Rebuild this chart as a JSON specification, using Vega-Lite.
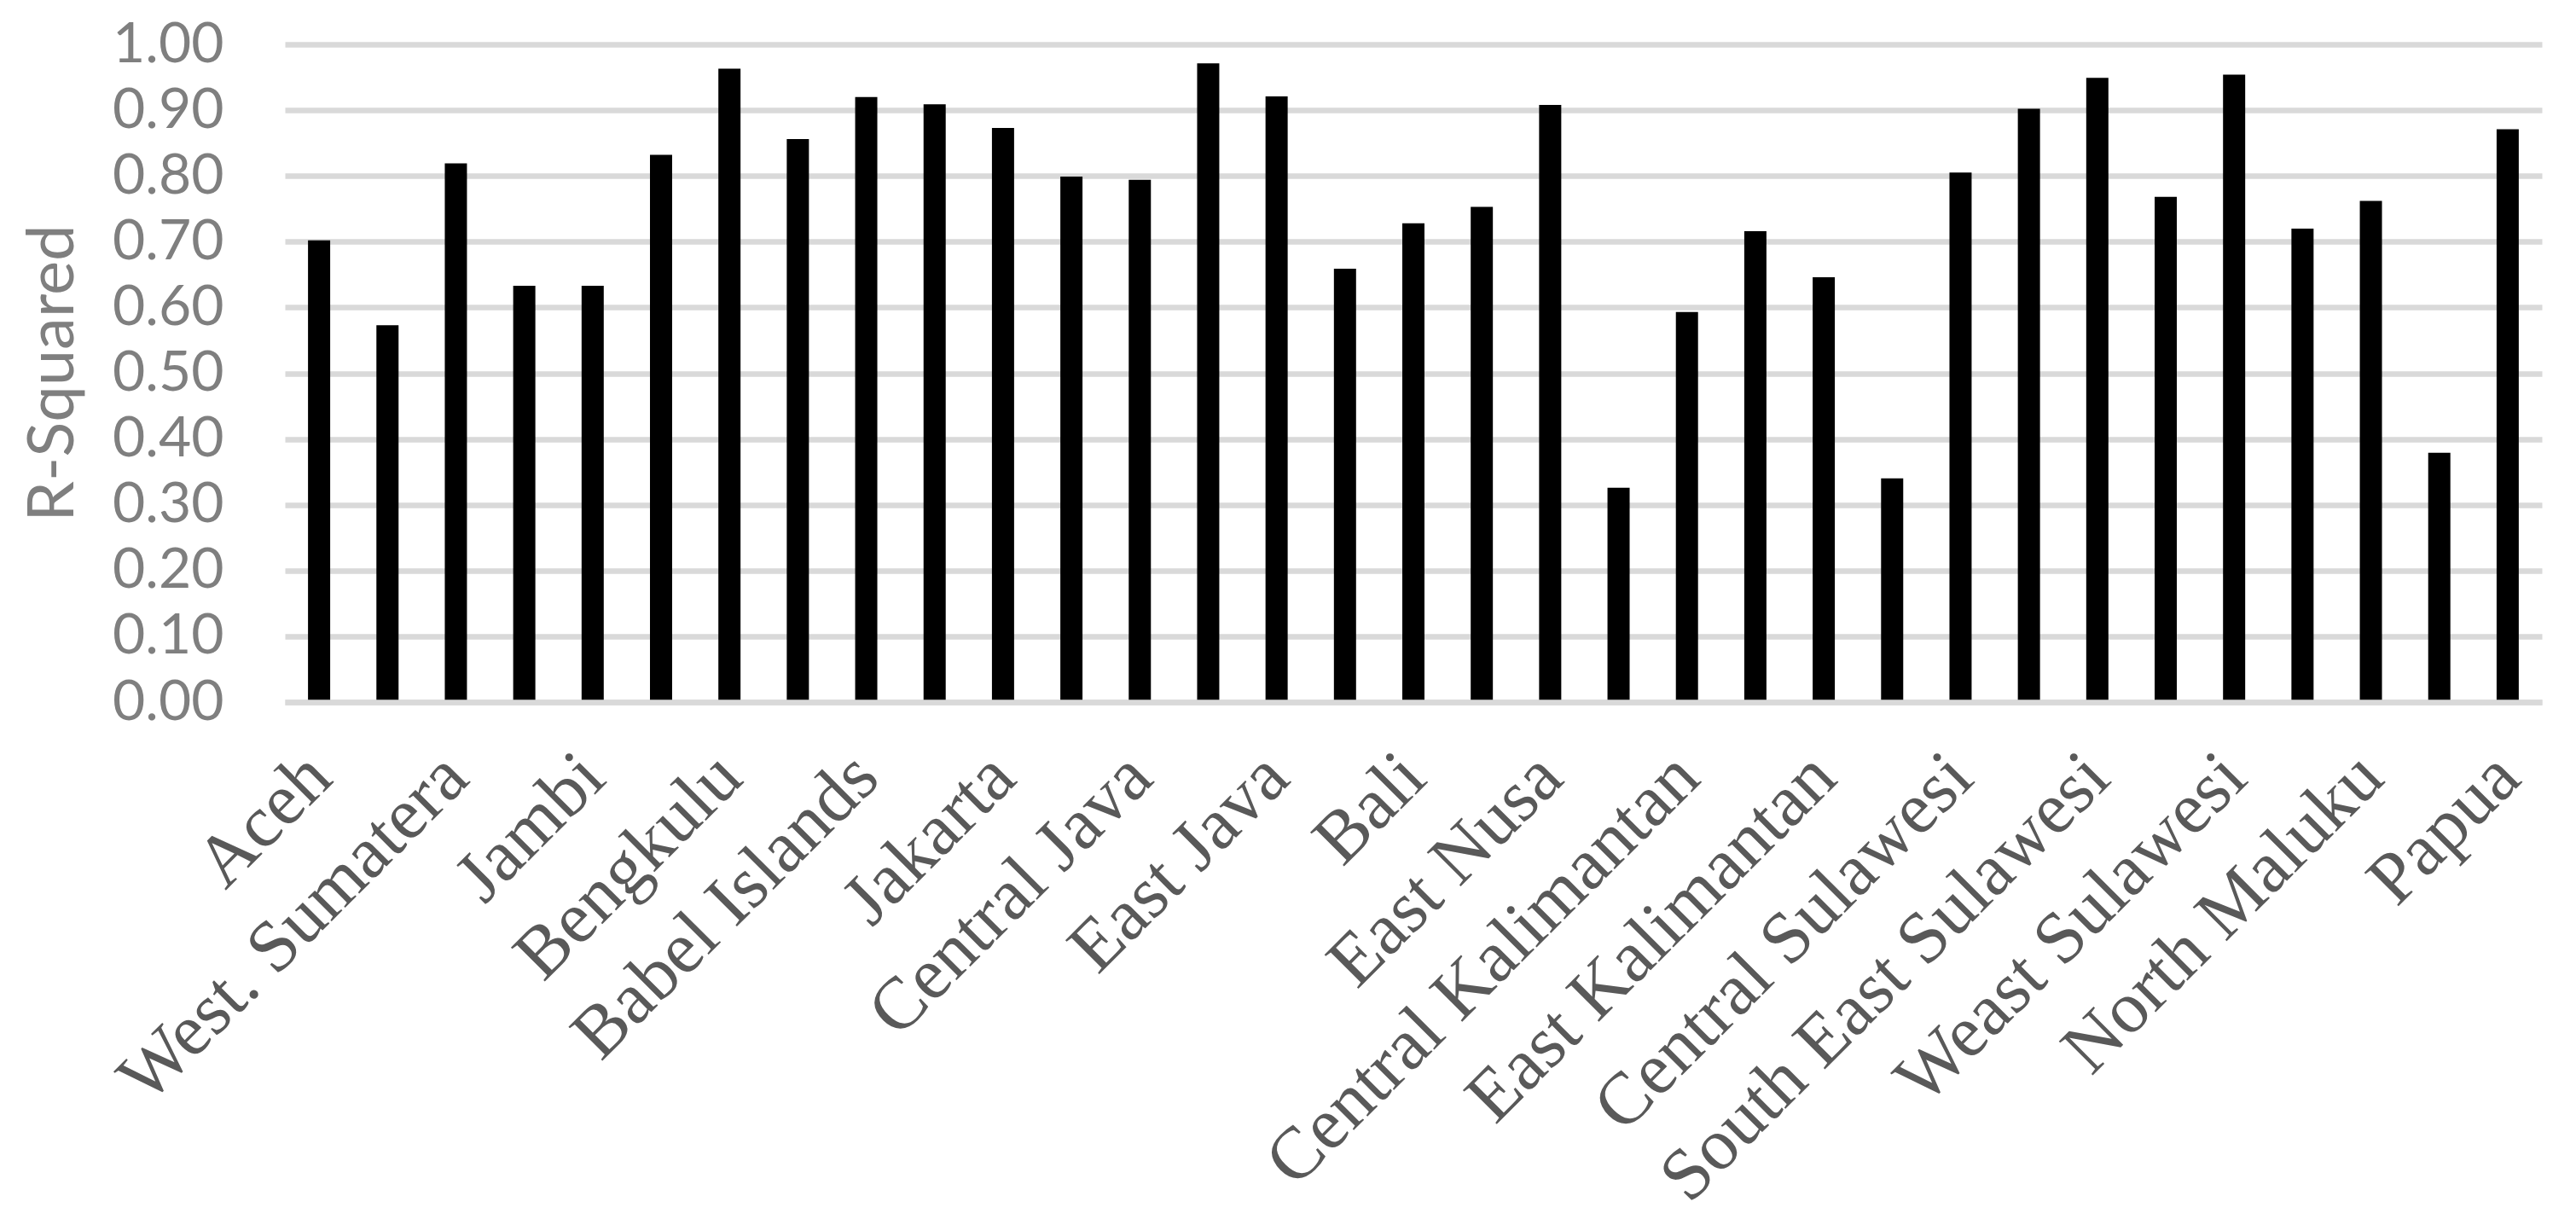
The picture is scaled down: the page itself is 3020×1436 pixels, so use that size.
{
  "$schema": "https://vega.github.io/schema/vega-lite/v6.json",
  "autosize": {"type": "none"},
  "width": 2646,
  "height": 771,
  "padding": {"left": 334, "top": 52, "right": 40, "bottom": 613},
  "background": "white",
  "data": {
    "values": [
      {"province": "Aceh", "r2": 0.702},
      {"province": "North Sumatera", "r2": 0.573},
      {"province": "West. Sumatera", "r2": 0.819},
      {"province": "Riau", "r2": 0.633},
      {"province": "Jambi", "r2": 0.633},
      {"province": "South Sumatera", "r2": 0.832},
      {"province": "Bengkulu", "r2": 0.963},
      {"province": "Lampung", "r2": 0.856},
      {"province": "Babel Islands", "r2": 0.920},
      {"province": "Riau Islands", "r2": 0.909},
      {"province": "Jakarta", "r2": 0.873},
      {"province": "West Java", "r2": 0.799},
      {"province": "Central Java", "r2": 0.794},
      {"province": "Yogyakarta", "r2": 0.971},
      {"province": "East Java", "r2": 0.921},
      {"province": "Banten", "r2": 0.659},
      {"province": "Bali", "r2": 0.728},
      {"province": "West Nusa", "r2": 0.753},
      {"province": "East Nusa", "r2": 0.908},
      {"province": "West Kalimantan", "r2": 0.326},
      {"province": "Central Kalimantan", "r2": 0.593},
      {"province": "South Kalimantan", "r2": 0.716},
      {"province": "East Kalimantan", "r2": 0.646},
      {"province": "North Sulawesi", "r2": 0.340},
      {"province": "Central Sulawesi", "r2": 0.805},
      {"province": "South Sulawesi", "r2": 0.902},
      {"province": "South East Sulawesi", "r2": 0.949},
      {"province": "Gorontalo", "r2": 0.768},
      {"province": "Weast Sulawesi", "r2": 0.954},
      {"province": "Maluku", "r2": 0.720},
      {"province": "North Maluku", "r2": 0.762},
      {"province": "West Papua", "r2": 0.379},
      {"province": "Papua", "r2": 0.871}
    ]
  },
  "mark": {"type": "bar", "color": "#000000"},
  "encoding": {
    "x": {
      "field": "province",
      "type": "nominal",
      "sort": null,
      "scale": {"paddingInner": 0.676, "paddingOuter": 0.338},
      "axis": {
        "title": null,
        "values": ["Aceh", "West. Sumatera", "Jambi", "Bengkulu", "Babel Islands", "Jakarta", "Central Java", "East Java", "Bali", "East Nusa", "Central Kalimantan", "East Kalimantan", "Central Sulawesi", "South East Sulawesi", "Weast Sulawesi", "North Maluku", "Papua"],
        "labelAngle": -45,
        "labelAlign": "right",
        "labelBaseline": "middle",
        "labelFont": "Liberation Serif",
        "labelFontSize": 86,
        "labelColor": "#595959",
        "labelPadding": 74,
        "labelLimit": 2000,
        "labelOverlap": false,
        "labelBound": false,
        "labelFlush": false,
        "ticks": false,
        "domain": true,
        "domainColor": "#d9d9d9",
        "domainWidth": 6.5,
        "zindex": 1,
        "grid": false
      }
    },
    "y": {
      "field": "r2",
      "type": "quantitative",
      "scale": {"domain": [0, 1], "nice": false},
      "axis": {
        "title": "R-Squared",
        "values": [0, 0.1, 0.2, 0.3, 0.4, 0.5, 0.6, 0.7, 0.8, 0.9, 1.0],
        "format": ".2f",
        "labelFont": "Lato",
        "labelFontSize": 66,
        "labelColor": "#7f7f7f",
        "labelPadding": 72,
        "ticks": false,
        "domain": false,
        "grid": true,
        "gridColor": "#d9d9d9",
        "gridWidth": 6.5,
        "titleFont": "Lato",
        "titleFontSize": 76,
        "titleFontWeight": "normal",
        "titleColor": "#7f7f7f",
        "titleAngle": -90,
        "titleAlign": "center",
        "titleBaseline": "alphabetic",
        "titleX": -249,
        "titleY": 385
      }
    }
  },
  "config": {"view": {"stroke": null}}
}
